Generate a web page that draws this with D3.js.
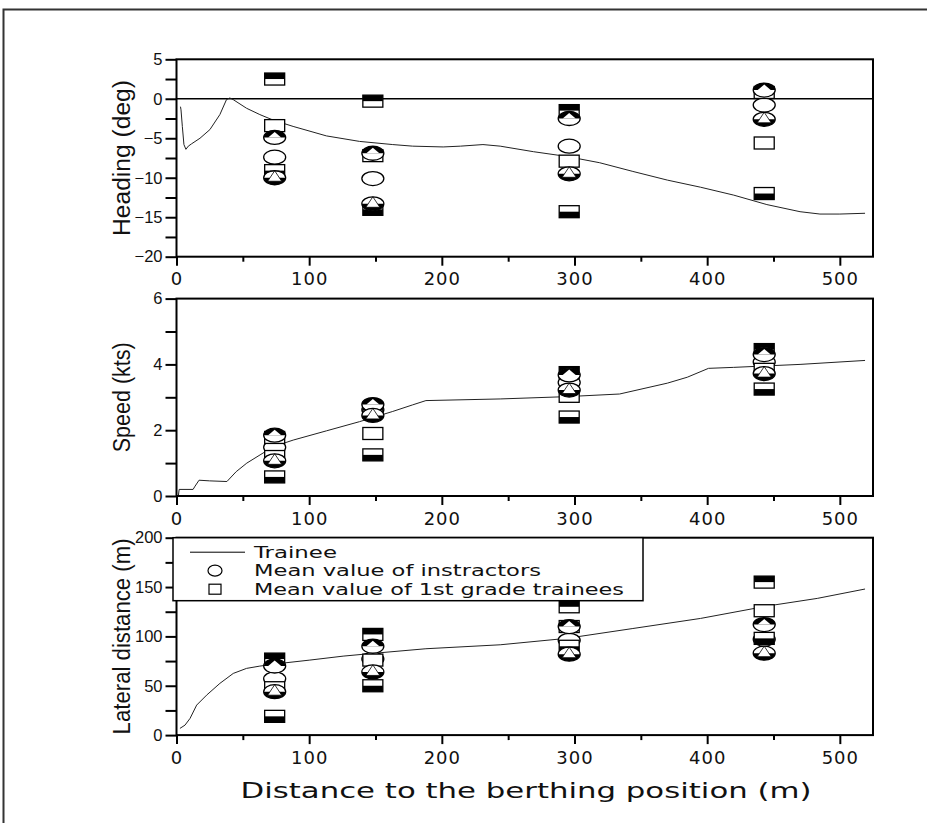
<!DOCTYPE html>
<html>
<head>
<meta charset="utf-8">
<script src="https://cdn.jsdelivr.net/npm/d3@7/dist/d3.min.js"></script>
<style>
body { margin: 0; background: #fff; }
text { fill: #111; }
</style>
</head>
<body>
<div id="chart"></div>
<script>
// x positions of the checkpoints (m)
var positions = [74, 148, 296, 443];

// heading (deg)
var headingInstrMean = [-7.4, -10.1, -6.0, -0.8];
var headingInstrUpper = [-4.9, -6.9, -2.5, 1.1];
var headingInstrLower = [-10.0, -13.3, -9.5, -2.6];
var headingTrainMean = [-3.4, -7.2, -7.9, -5.6];
var headingTrainUpper = [2.5, -0.3, -1.5, 0.8];
var headingTrainLower = [-9.1, -14.0, -14.3, -12.0];
var headingLine = [[3,-1.0],[3.4,-1.4],[4.4,-3.5],[5.6,-5.8],[7.1,-6.4],[8.9,-6.0],[11.4,-5.7],[17.7,-5.0],[25.2,-3.9],[32.7,-2.0],[37.7,-0.1],[40.2,0.1],[42.7,-0.1],[52.8,-1.2],[62.8,-2.0],[72.9,-2.7],[87.9,-3.5],[113,-4.7],[138,-5.4],[163,-5.8],[178,-6.0],[201,-6.1],[214,-6.0],[231,-5.8],[244,-6.0],[269,-6.7],[294,-7.3],[319,-8.1],[344,-9.2],[370,-10.3],[395,-11.2],[420,-12.2],[445,-13.4],[470,-14.3],[485,-14.6],[500,-14.6],[519,-14.5]];

// speed (kts)
var speedInstrMean = [1.48, 2.62, 3.45, 4.07];
var speedInstrUpper = [1.85, 2.78, 3.68, 4.3];
var speedInstrLower = [1.07, 2.45, 3.22, 3.72];
var speedTrainMean = [1.2, 1.9, 3.03, 3.85];
var speedTrainUpper = [1.78, 2.6, 3.75, 4.45];
var speedTrainLower = [0.58, 1.25, 2.4, 3.25];
var speedLine = [[1.4,0],[2.0,0.2],[12.5,0.2],[14,0.3],[17,0.48],[25,0.46],[38,0.44],[45,0.74],[53,1.0],[63,1.25],[73,1.5],[88,1.7],[113,1.98],[138,2.26],[163,2.57],[178,2.77],[188,2.9],[244,2.95],[294,3.02],[334,3.1],[370,3.43],[385,3.61],[401,3.88],[420,3.91],[470,4.0],[519,4.12]];

// lateral distance (m)
var latInstrMean = [57, 77, 96, 97];
var latInstrUpper = [70, 90, 110, 112];
var latInstrLower = [44, 64, 82, 83];
var latTrainMean = [48, 76, 110, 126];
var latTrainUpper = [77, 102, 130, 155];
var latTrainLower = [19, 50, 90, 98];
var latLine = [[2.6,6.8],[6.4,10.1],[10.2,16.9],[15.2,30.4],[22.7,40.5],[32.7,52.4],[42.8,62.5],[52.8,67.6],[62.8,69.9],[77.9,72.6],[100.5,76],[125.6,80],[148,82.8],[188,87.5],[244,91.5],[294,98],[344,108],[395,118.2],[445,130.7],[483,138.5],[519,148]];

var xMajor = [0, 100, 200, 300, 400, 500];
var xMinor = [50, 150, 250, 350, 450];
var legendLabels = ['Trainee', 'Mean value of instractors', 'Mean value of 1st grade trainees'];

var panels = [
    {top: 59.3, domain: [-20, 5], ticks: d3.range(-20, 5.1, 2.5), labels: [-20, -15, -10, -5, 0, 5],
     title: 'Heading (deg)', titleLen: 156, zero: true, line: headingLine,
     iMean: headingInstrMean, iUp: headingInstrUpper, iLo: headingInstrLower,
     tMean: headingTrainMean, tUp: headingTrainUpper, tLo: headingTrainLower},
    {top: 298.6, domain: [0, 6], ticks: d3.range(0, 6.1, 1), labels: [0, 2, 4, 6],
     title: 'Speed (kts)', titleLen: 110, zero: false, line: speedLine,
     iMean: speedInstrMean, iUp: speedInstrUpper, iLo: speedInstrLower,
     tMean: speedTrainMean, tUp: speedTrainUpper, tLo: speedTrainLower},
    {top: 537.7, domain: [0, 200], ticks: d3.range(0, 201, 25), labels: [0, 50, 100, 150, 200],
     title: 'Lateral distance (m)', titleLen: 196, zero: false, line: latLine, legend: true,
     iMean: latInstrMean, iUp: latInstrUpper, iLo: latInstrLower,
     tMean: latTrainMean, tUp: latTrainUpper, tLo: latTrainLower}
];

var W = 927, H = 823, panelH = 197.4;
var rx = 11, ry = 7, sw = 20, sh = 12;

var svg = d3.select('#chart').append('svg')
    .attr('width', W)
    .attr('height', H);

// outer frame
svg.append('rect')
    .attr('x', 3.5).attr('y', 9.5)
    .attr('width', 1000).attr('height', 1000)
    .attr('fill', 'none')
    .attr('stroke', '#333')
    .attr('stroke-width', 2);

var x = d3.scaleLinear().domain([0, 525]).range([176.5, 873]);

function circleMarker(g, kind) {
    g.append('ellipse').attr('rx', rx).attr('ry', ry).attr('fill', '#fff');
    if (kind == 'up') {
        g.append('path').attr('d', 'M' + (-rx) + ',0 A' + rx + ',' + ry + ' 0 0 1 ' + rx + ',0 Z').attr('fill', '#000');
        g.append('path').attr('d', 'M0,' + (-ry + 1.5) + ' L6.5,0 L-6.5,0 Z').attr('fill', '#fff');
    } else if (kind == 'lo') {
        g.append('path').attr('d', 'M' + (-rx) + ',0 A' + rx + ',' + ry + ' 0 0 0 ' + rx + ',0 Z').attr('fill', '#000');
        g.append('path').attr('d', 'M0,' + (-ry) + ' L7,3.5 L-7,3.5 Z')
            .attr('fill', '#fff').attr('stroke', '#000').attr('stroke-width', 0.8);
    }
    g.append('ellipse').attr('rx', rx).attr('ry', ry)
        .attr('fill', 'none').attr('stroke', '#000').attr('stroke-width', 1.3);
}

function squareMarker(g, kind) {
    g.append('rect').attr('x', -sw / 2).attr('y', -sh / 2).attr('width', sw).attr('height', sh).attr('fill', '#fff');
    if (kind == 'up') {
        g.append('rect').attr('x', -sw / 2).attr('y', -sh / 2).attr('width', sw).attr('height', sh / 2).attr('fill', '#000');
    } else if (kind == 'lo') {
        g.append('rect').attr('x', -sw / 2).attr('y', 0).attr('width', sw).attr('height', sh / 2).attr('fill', '#000');
    }
    g.append('rect').attr('x', -sw / 2).attr('y', -sh / 2).attr('width', sw).attr('height', sh)
        .attr('fill', 'none').attr('stroke', '#000').attr('stroke-width', 1.3);
}

panels.forEach(function(p) {
    var y = d3.scaleLinear().domain(p.domain).range([p.top + panelH, p.top]);
    var g = svg.append('g');

    if (p.zero) {
        g.append('line')
            .attr('x1', x.range()[0]).attr('x2', x.range()[1])
            .attr('y1', y(0)).attr('y2', y(0))
            .attr('stroke', '#000').attr('stroke-width', 1.6);
    }

    var line = d3.line()
        .x(function(d) { return x(d[0]); })
        .y(function(d) { return y(d[1]); });
    g.append('path')
        .datum(p.line)
        .attr('d', line)
        .attr('fill', 'none')
        .attr('stroke', '#222')
        .attr('stroke-width', 1);

    // markers, drawn in this order so overlaps look like the original
    var series = [
        {vals: p.iMean, shape: 'c', kind: 'mean'},
        {vals: p.tMean, shape: 's', kind: 'mean'},
        {vals: p.tLo, shape: 's', kind: 'lo'},
        {vals: p.tUp, shape: 's', kind: 'up'},
        {vals: p.iUp, shape: 'c', kind: 'up'},
        {vals: p.iLo, shape: 'c', kind: 'lo'}
    ];
    series.forEach(function(s) {
        g.selectAll(null).data(s.vals).enter().append('g')
            .attr('transform', function(d, i) { return 'translate(' + x(positions[i]) + ',' + y(d) + ')'; })
            .each(function() {
                if (s.shape == 'c') circleMarker(d3.select(this), s.kind);
                else squareMarker(d3.select(this), s.kind);
            });
    });

    // frame
    g.append('rect')
        .attr('x', x.range()[0]).attr('y', p.top)
        .attr('width', x.range()[1] - x.range()[0]).attr('height', panelH)
        .attr('fill', 'none').attr('stroke', '#000').attr('stroke-width', 2);

    // x axis: minor then major
    var base = p.top + panelH;
    g.append('g')
        .attr('transform', 'translate(0,' + base + ')')
        .call(d3.axisBottom(x).tickValues(xMinor).tickSize(5).tickFormat(''))
        .call(function(a) { a.select('.domain').remove(); a.selectAll('line').attr('stroke-width', 2); });
    g.append('g')
        .attr('transform', 'translate(0,' + base + ')')
        .call(d3.axisBottom(x).tickValues(xMajor).tickSize(9).tickPadding(7))
        .call(function(a) {
            a.select('.domain').remove();
            a.selectAll('line').attr('stroke-width', 2);
            a.selectAll('text').attr('font-family', 'DejaVu Sans').attr('font-size', 18).attr('letter-spacing', 1);
        });

    // y axis
    g.append('g')
        .attr('transform', 'translate(' + x.range()[0] + ',0)')
        .call(d3.axisLeft(y).tickValues(p.ticks).tickSize(11).tickPadding(3)
            .tickFormat(function(d) { return p.labels.indexOf(d) >= 0 ? String(d).replace('-', '\u2212') : ''; }))
        .call(function(a) {
            a.select('.domain').remove();
            a.selectAll('line').attr('stroke-width', 2);
            a.selectAll('text').attr('font-family', 'Liberation Sans').attr('font-size', 16.5);
        });

    svg.append('text')
        .attr('transform', 'translate(130,' + (p.top + panelH / 2) + ') rotate(-90)')
        .attr('text-anchor', 'middle')
        .attr('font-family', 'Liberation Sans Narrow, Liberation Sans, sans-serif')
        .attr('font-size', 23)
        .attr('textLength', p.titleLen)
        .attr('lengthAdjust', 'spacingAndGlyphs')
        .text(p.title);

    if (p.legend) {
        var lg = svg.append('g');
        lg.append('rect')
            .attr('x', 173).attr('y', p.top)
            .attr('width', 470).attr('height', 63)
            .attr('fill', '#fff').attr('stroke', '#000').attr('stroke-width', 1.5);
        lg.append('line')
            .attr('x1', 190).attr('x2', 245)
            .attr('y1', p.top + 14.5).attr('y2', p.top + 14.5)
            .attr('stroke', '#000').attr('stroke-width', 1);
        lg.append('ellipse')
            .attr('cx', 215).attr('cy', p.top + 33)
            .attr('rx', 7).attr('ry', 5.5)
            .attr('fill', '#fff').attr('stroke', '#000').attr('stroke-width', 1.2);
        lg.append('rect')
            .attr('x', 209).attr('y', p.top + 46.5)
            .attr('width', 12).attr('height', 10)
            .attr('fill', '#fff').attr('stroke', '#000').attr('stroke-width', 1.2);
        var lens = [83, 287, 370];
        lg.selectAll('text.leg').data(legendLabels).enter().append('text')
            .attr('class', 'leg')
            .attr('x', 254)
            .attr('y', function(d, i) { return p.top + 20 + i * 18.5; })
            .attr('font-family', 'DejaVu Sans')
            .attr('font-size', 15.5)
            .attr('textLength', function(d, i) { return lens[i]; })
            .attr('lengthAdjust', 'spacingAndGlyphs')
            .text(function(d) { return d; });
    }
});

svg.append('text')
    .attr('x', 526).attr('y', 798)
    .attr('text-anchor', 'middle')
    .attr('font-family', 'DejaVu Sans')
    .attr('font-size', 22)
    .attr('textLength', 571)
    .attr('lengthAdjust', 'spacingAndGlyphs')
    .text('Distance to the berthing position (m)');
</script>
</body>
</html>
